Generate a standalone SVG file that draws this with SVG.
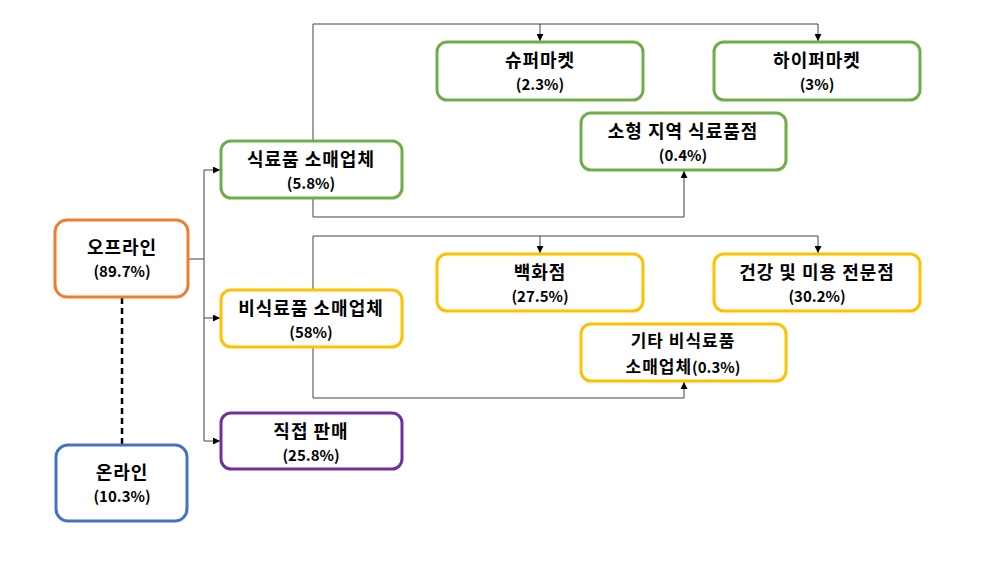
<svg xmlns="http://www.w3.org/2000/svg" width="1000" height="562" viewBox="0 0 1000 562">
<defs>
<marker id="arr" viewBox="0 0 10 10" refX="10" refY="5" markerWidth="7" markerHeight="7" markerUnits="userSpaceOnUse" orient="auto">
<path d="M0,0 L10,5 L0,10 z" fill="#000"/>
</marker>
<style>
.n rect{fill:#fff;stroke-width:3}
.g rect{stroke:#70AD47}
.y rect{stroke:#FFC000}
.o rect{stroke:#ED7D31}
.b rect{stroke:#4472C4}
.p rect{stroke:#7030A0}
text{font-family:"Noto Sans CJK KR","Noto Sans",sans-serif;font-weight:bold;fill:#000;text-anchor:middle}
.t1{font-size:18px;letter-spacing:1px}
.t3{font-size:17px;letter-spacing:1px}
.t2{font-size:15px;letter-spacing:0}
.c{fill:none;stroke:#404040;stroke-width:1}
.cb{fill:none;stroke:#404040;stroke-width:1;marker-end:url(#arr)}
.d{fill:none;stroke:#000;stroke-width:2.5;stroke-dasharray:6,4}
</style>
</defs>
<rect width="1000" height="562" fill="#fff"/>
<g id="connectors">
<path class="d" d="M122,298 V444"/>
<path class="c" d="M188,259 H204"/>
<path class="c" d="M204,170 V441"/>
<path class="cb" d="M204,170 H220"/>
<path class="cb" d="M204,318 H220"/>
<path class="cb" d="M204,441 H220"/>
<path class="c" d="M313,141 V24 H818"/>
<path class="cb" d="M540,24 V41"/>
<path class="cb" d="M818,24 V41"/>
<path class="cb" d="M313,198 V217 H684 V171"/>
<path class="c" d="M313,290 V236 H818"/>
<path class="cb" d="M540,236 V253"/>
<path class="cb" d="M818,236 V253"/>
<path class="cb" d="M313,347 V398 H684 V382"/>
</g>
<g id="offline" class="n o"><rect x="55" y="220" width="133" height="77" rx="12"/><text class="t1" x="122" y="254">오프라인</text><text class="t2" x="122" y="277">(89.7%)</text></g>
<g id="online" class="n b"><rect x="56" y="445" width="131" height="76" rx="12"/><text class="t1" x="122" y="479">온라인</text><text class="t2" x="122" y="502">(10.3%)</text></g>
<g id="food" class="n g"><rect x="221" y="141" width="181" height="57" rx="10"/><text class="t1" x="311" y="166">식료품 소매업체</text><text class="t2" x="311" y="189">(5.8%)</text></g>
<g id="nonfood" class="n y"><rect x="221" y="290" width="181" height="57" rx="10"/><text class="t1" x="311" y="315">비식료품 소매업체</text><text class="t2" x="311" y="338">(58%)</text></g>
<g id="direct" class="n p"><rect x="221" y="413" width="181" height="56" rx="10"/><text class="t1" x="311" y="438">직접 판매</text><text class="t2" x="311" y="461">(25.8%)</text></g>
<g id="super" class="n g"><rect x="437" y="42" width="206" height="58" rx="10"/><text class="t1" x="540" y="67">슈퍼마켓</text><text class="t2" x="540" y="90">(2.3%)</text></g>
<g id="hyper" class="n g"><rect x="714" y="42" width="206" height="58" rx="10"/><text class="t1" x="817" y="67">하이퍼마켓</text><text class="t2" x="817" y="90">(3%)</text></g>
<g id="small" class="n g"><rect x="581" y="113" width="205" height="57" rx="10"/><text class="t1" x="683" y="138">소형 지역 식료품점</text><text class="t2" x="683" y="161">(0.4%)</text></g>
<g id="dept" class="n y"><rect x="437" y="254" width="206" height="57" rx="10"/><text class="t1" x="540" y="279">백화점</text><text class="t2" x="540" y="302">(27.5%)</text></g>
<g id="health" class="n y"><rect x="714" y="254" width="206" height="57" rx="10"/><text class="t1" x="817" y="279">건강 및 미용 전문점</text><text class="t2" x="817" y="302">(30.2%)</text></g>
<g id="other" class="n y"><rect x="581" y="324" width="205" height="57" rx="10"/><text class="t3" x="683" y="347">기타 비식료품</text><text class="t3" x="683" y="373">소매업체<tspan class="t2">(0.3%)</tspan></text></g>
</svg>
